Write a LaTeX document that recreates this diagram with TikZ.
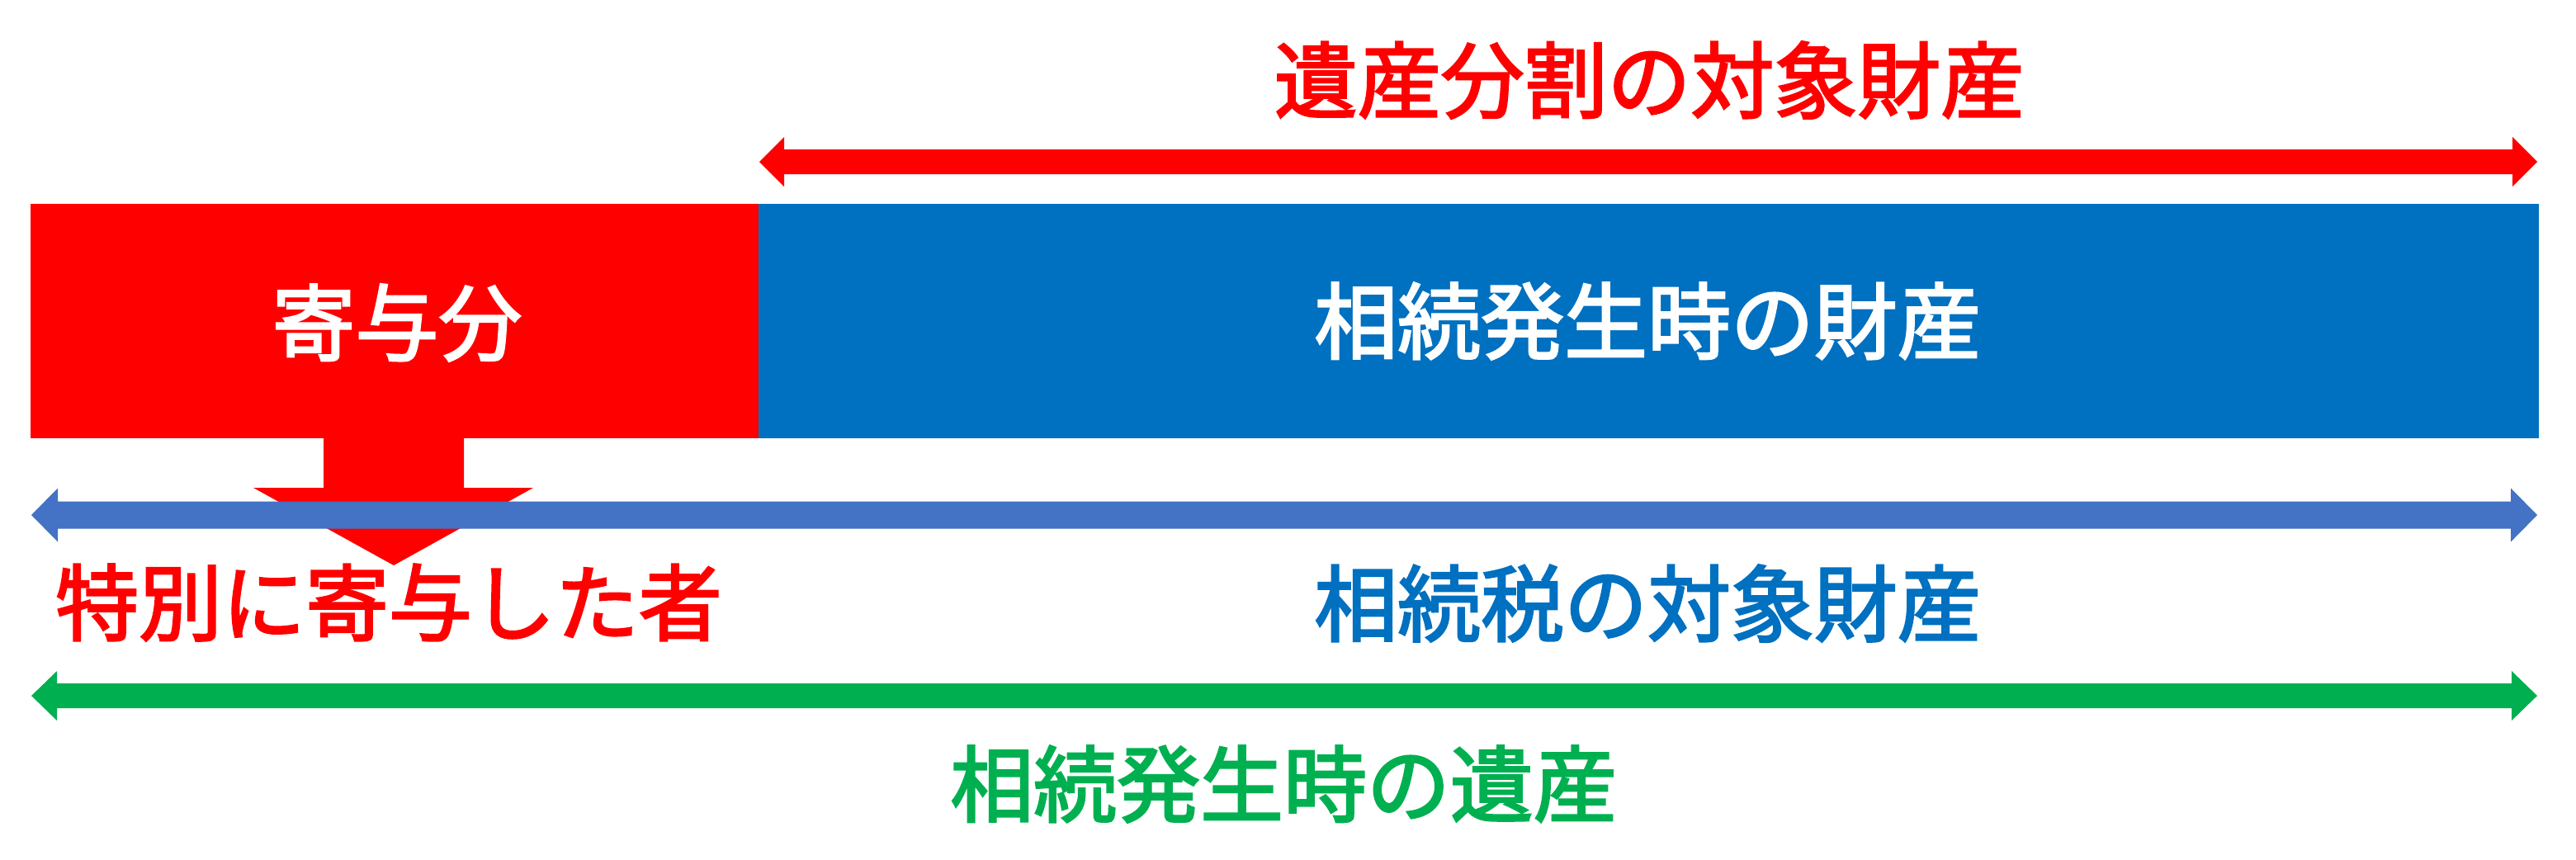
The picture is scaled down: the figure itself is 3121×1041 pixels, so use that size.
\documentclass[tikz,border=0pt]{standalone}
\usepackage{fontspec}
\newfontfamily\jp{Noto Sans CJK JP}[FakeBold=2.5]
\usetikzlibrary{calc}
\definecolor{kred}{HTML}{FF0000}
\definecolor{kblue}{HTML}{0070C0}
\definecolor{karrow}{HTML}{4472C4}
\definecolor{kgreen}{HTML}{00B050}
\newcommand\hdarrow[6]{% style, left tip, right tip, half shaft, head length, head half
  \fill[#1] (#2) -- ($(#2)+(#5,-#6)$) -- ($(#2)+(#5,-#4)$) -- ($(#3)+(-#5,-#4)$) -- ($(#3)+(-#5,-#6)$) -- (#3)
    -- ($(#3)+(-#5,#6)$) -- ($(#3)+(-#5,#4)$) -- ($(#2)+(#5,#4)$) -- ($(#2)+(#5,#6)$) -- cycle;}
\begin{document}
\begin{tikzpicture}[x=0.01cm,y=-0.01cm,
  lbl/.style={font=\jp\fontsize{28.7pt}{30pt}\selectfont, inner sep=0pt},
  box/.style={draw=none, inner sep=0pt, outer sep=0pt}]
\useasboundingbox (0,0) rectangle (3121,1041);
% boxes
\node[box, fill=kred, minimum width=8.83cm, minimum height=2.84cm] (kiyo) at (478.5,389) {};
\node[box, fill=kblue, minimum width=21.55cm, minimum height=2.84cm] (zaisan) at (1997.5,389) {};
\node[lbl, text=white] (kiyoT) at (481,391) {寄与分};
\node[lbl, text=white] (zaisanT) at (1996,389) {相続発生時の財産};
% down block arrow
\coordinate (dtip) at (477,685);
\fill[kred] (392,531) -- (562,531) -- (562,591) -- (646,591) -- (dtip) -- (307,591) -- (392,591) -- cycle;
% horizontal double arrows
\coordinate (rL) at (920,196); \coordinate (rR) at (3074,196);
\coordinate (bL) at (38,624);  \coordinate (bR) at (3074,624);
\coordinate (gL) at (38,843);  \coordinate (gR) at (3074,843);
\hdarrow{kred}{rL}{rR}{15}{30}{30}
\hdarrow{karrow}{bL}{bR}{16.5}{32}{32.5}
\hdarrow{kgreen}{gL}{gR}{15}{31}{30}
% labels
\node[lbl, text=kred] (title) at (1998,97) {遺産分割の対象財産};
\node[lbl, text=kred] (heir) at (471,730) {特別に寄与した者};
\node[lbl, text=kblue] (tax) at (1996,731) {相続税の対象財産};
\node[lbl, text=kgreen] (estate) at (1555,950) {相続発生時の遺産};
\end{tikzpicture}
\end{document}
